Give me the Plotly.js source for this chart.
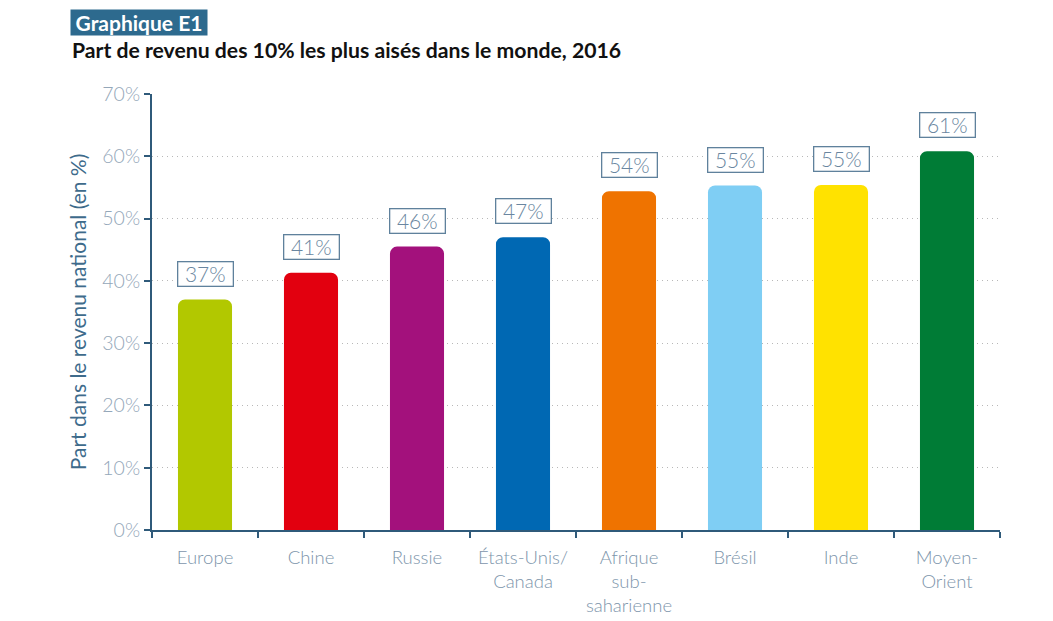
<!DOCTYPE html>
<html><head><meta charset="utf-8">
<script src="https://cdn.plot.ly/plotly-3.0.1.min.js"></script>
<style>html,body{margin:0;padding:0;background:#fff}#chart{width:1053px;height:621px}</style>
</head><body><div id="chart"></div>
<script>
const categories = ["Europe","Chine","Russie","États-Unis/<br>Canada","Afrique<br>sub-<br>saharienne","Brésil","Inde","Moyen-<br>Orient"];
const values = [37.0, 41.3, 45.5, 47.0, 54.4, 55.3, 55.4, 60.8];
const labels = ["37%","41%","46%","47%","54%","55%","55%","61%"];
const colors = ["#b2c800","#e2000f","#a3117c","#0068b3","#ef7300","#7fcef4","#ffe200","#007c36"];
const yTicks = [0,10,20,30,40,50,60,70];
const yTickText = yTicks.map(v => v + "%");

const axisColor = "#2f5a7a";
const textColor = "#7d95ab";
const font = "Lato, 'Open Sans', sans-serif";

const annotations = categories.map((c, i) => ({
  x: c, y: values[i], xref: "x", yref: "y",
  text: labels[i], showarrow: false, yanchor: "bottom", yshift: 13,
  width: 52, height: 21, align: "center", valign: "middle",
  font: {family: font, size: 21, weight: 300, color: "#6a86a0"},
  bordercolor: "#5f819c", borderwidth: 1.3, borderpad: 1, bgcolor: "#fff"
}));
annotations.push({
  xref: "paper", yref: "paper", x: -0.097, y: 1.163, xanchor: "left", yanchor: "middle",
  text: "<b>Graphique E1</b>", showarrow: false, width: 136, height: 25,
  font: {family: font, size: 21, color: "#fff"}, bgcolor: "#2d6a8e", borderpad: 0
});
annotations.push({
  xref: "paper", yref: "paper", x: -0.097, y: 1.101, xanchor: "left", yanchor: "middle",
  text: "<b>Part de revenu des 10% les plus aisés dans le monde, 2016</b>", showarrow: false,
  font: {family: font, size: 21.2, color: "#111"}
});

Plotly.newPlot("chart", [{
  type: "bar", x: categories, y: values,
  marker: {color: colors, cornerradius: 7},
  width: 0.51, hoverinfo: "none"
}], {
  width: 1053, height: 621,
  margin: {l: 152, r: 53, t: 94, b: 91},
  paper_bgcolor: "#fff", plot_bgcolor: "#fff",
  showlegend: false,
  font: {family: font, color: textColor},
  xaxis: {
    type: "category", tickson: "boundaries", ticks: "outside", ticklen: 6, tickwidth: 2, tickcolor: axisColor,
    showline: true, linecolor: axisColor, linewidth: 2, showgrid: false, ticklabelstandoff: 10,
    tickfont: {family: font, size: 18.5, weight: 300, color: textColor}, fixedrange: true
  },
  yaxis: {
    range: [0, 70], tickvals: yTicks, ticktext: yTickText,
    ticks: "outside", ticklen: 6, tickwidth: 2, tickcolor: axisColor,
    showline: true, linecolor: axisColor, linewidth: 2,
    showgrid: true, gridcolor: "#b8b8b8", griddash: "1px,4px", gridwidth: 1, zeroline: false,
    tickfont: {family: font, size: 19.5, weight: 300, color: "#94a7b9"},
    title: {text: "Part dans le revenu national (en %)", font: {family: font, size: 21, color: "#3e6b8b"}, standoff: 10}
  },
  annotations: annotations
}, {staticPlot: true});
</script></body></html>
